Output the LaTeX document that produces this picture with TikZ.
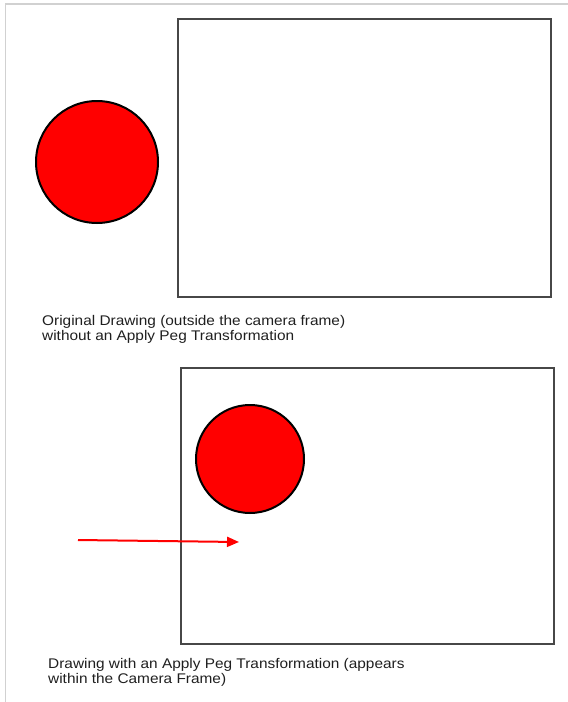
\documentclass[tikz,border=0pt]{standalone}
\usepackage{fontspec}
\setmainfont[FakeStretch=1.1]{Liberation Sans}
\usetikzlibrary{arrows.meta}
\begin{document}
\begin{tikzpicture}[x=1pt,y=-1pt,
  frame/.style={draw=black!72,line width=1.6pt},
  ball/.style={circle,draw=black,fill=red,line width=2pt,inner sep=0pt},
  caption/.style={anchor=north west,align=left,font=\fontsize{14}{15.3}\selectfont,text=black!88,inner sep=0pt},
  move/.style={draw=red,line width=2pt,-{Triangle[length=12pt,width=10pt]}}]
\useasboundingbox (0,0) rectangle (568,702);
\draw[black!18,line width=1.2pt] (5.5,702) -- (5.5,4) -- (568,4);
\node[frame,minimum width=373pt,minimum height=278pt,inner sep=0pt,anchor=north west] (f1) at (177,18) {};
\node[ball,minimum size=122pt] (c1) at (97,162) {};
\node[caption] (t1) at (42,315) {Original Drawing (outside the camera frame)\\without an Apply Peg Transformation};
\node[frame,minimum width=373pt,minimum height=276pt,inner sep=0pt,anchor=north west] (f2) at (180,367) {};
\node[ball,minimum size=108pt] (c2) at (250,459) {};
\coordinate (a0) at (78,540);
\coordinate (a1) at (239,542);
\draw[move] (a0) -- (a1);
\node[caption] (t2) at (48,658) {Drawing with an Apply Peg Transformation (appears\\within the Camera Frame)};
\end{tikzpicture}
\end{document}
